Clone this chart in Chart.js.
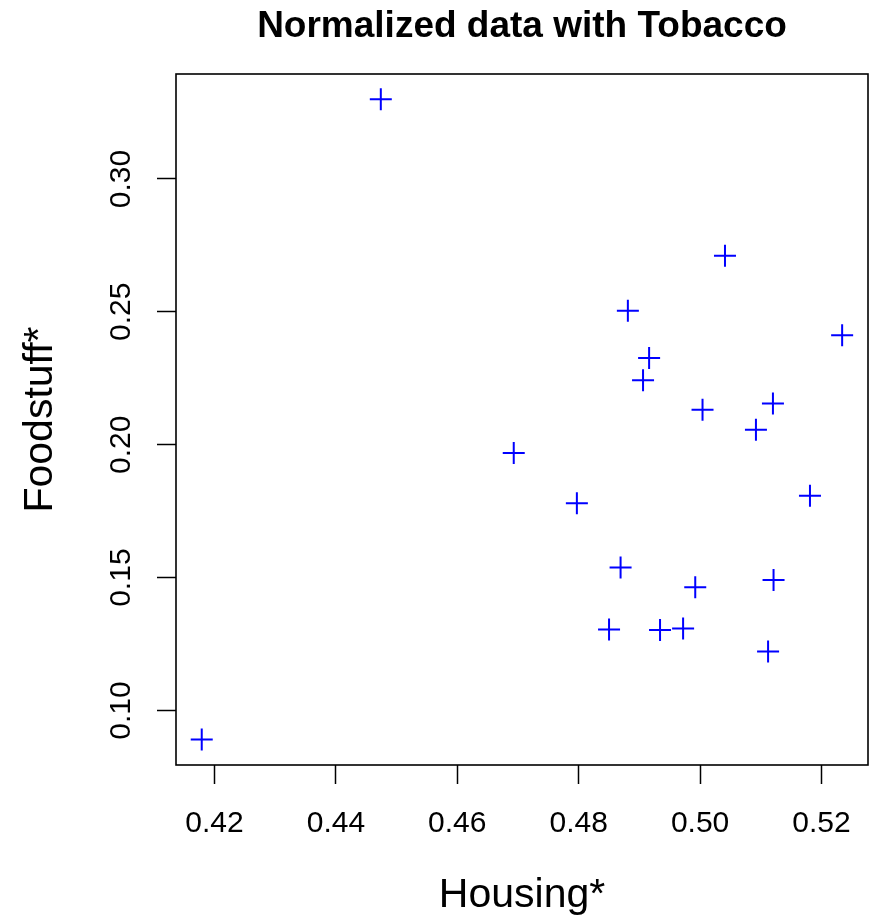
<!DOCTYPE html>
<html>
<head>
<meta charset="utf-8">
<title>Normalized data with Tobacco</title>
<script src="https://cdn.jsdelivr.net/npm/chart.js@4.4.0/dist/chart.umd.min.js"></script>
<style>
    body { margin: 0; background: #ffffff; }
    canvas { display: block; }
</style>
</head>
<body>
<canvas id="myChart" width="869" height="918"></canvas>
<script>
// Housing* (x) and Foodstuff* (y), normalized values
const housing = [0.4474, 0.4179, 0.5041, 0.4881, 0.5234, 0.4916, 0.4906, 0.5004, 0.5120, 0.5092,
                 0.4693, 0.4797, 0.5181, 0.4869, 0.4992, 0.5121, 0.4850, 0.4934, 0.4972, 0.5112];
const foodstuff = [0.3300, 0.0891, 0.2711, 0.2504, 0.2412, 0.2326, 0.2243, 0.2132, 0.2155, 0.2056,
                   0.1969, 0.1780, 0.1808, 0.1538, 0.1464, 0.1491, 0.1305, 0.1303, 0.1309, 0.1222];
const xTicks = [0.42, 0.44, 0.46, 0.48, 0.50, 0.52];
const yTicks = [0.10, 0.15, 0.20, 0.25, 0.30];

const fontFamily = '"Liberation Sans", Arial, Helvetica, sans-serif';

let points = [];
for (let i = 0; i < housing.length; i++) {
    points.push({x: housing[i], y: foodstuff[i]});
}

// R style box around the plot region
const plotBox = {
    id: 'plotBox',
    afterDraw: (chart) => {
        const {ctx, chartArea} = chart;
        ctx.save();
        ctx.strokeStyle = '#000000';
        ctx.lineWidth = 1.6;
        ctx.strokeRect(chartArea.left, chartArea.top, chartArea.right - chartArea.left, chartArea.bottom - chartArea.top);
        ctx.restore();
    }
};

const ctx = document.getElementById('myChart').getContext('2d');
new Chart(ctx, {
    type: 'scatter',
    data: {
        datasets: [{
            label: 'Foodstuff* vs Housing*',
            data: points,
            pointStyle: 'cross',
            pointRadius: 11,
            pointHoverRadius: 11,
            borderWidth: 2,
            borderColor: '#0000ff',
            backgroundColor: '#0000ff'
        }]
    },
    options: {
        responsive: false,
        animation: false,
        layout: {
            autoPadding: false,
            padding: {left: 0, top: 0, right: 1, bottom: 0}
        },
        scales: {
            x: {
                type: 'linear',
                min: 0.41366,
                max: 0.52766,
                afterBuildTicks: (scale) => {
                    scale.ticks = xTicks.map(v => ({value: v}));
                },
                afterFit: (scale) => {
                    scale.height = 153;
                    // labels fit inside the margin, no extra side padding
                    scale.paddingLeft = 0;
                    scale.paddingRight = 0;
                },
                border: {display: false},
                grid: {
                    drawOnChartArea: false,
                    drawTicks: true,
                    tickLength: 19,
                    tickColor: '#000000',
                    tickWidth: 1.5
                },
                ticks: {
                    color: '#000000',
                    padding: 22,
                    maxRotation: 0,
                    autoSkip: false,
                    font: {family: fontFamily, size: 30},
                    callback: (v) => v.toFixed(2)
                },
                title: {
                    display: true,
                    text: 'Housing*',
                    color: '#000000',
                    font: {family: fontFamily, size: 41, lineHeight: 1},
                    padding: {top: 0, bottom: 2}
                }
            },
            y: {
                type: 'linear',
                min: 0.0795,
                max: 0.3395,
                afterBuildTicks: (scale) => {
                    scale.ticks = yTicks.map(v => ({value: v}));
                },
                afterFit: (scale) => {
                    scale.width = 176;
                    scale.paddingTop = 0;
                    scale.paddingBottom = 0;
                },
                border: {display: false},
                grid: {
                    drawOnChartArea: false,
                    drawTicks: true,
                    tickLength: 19,
                    tickColor: '#000000',
                    tickWidth: 1.5
                },
                ticks: {
                    color: '#000000',
                    padding: 6,
                    minRotation: 90,
                    maxRotation: 90,
                    crossAlign: 'center',
                    autoSkip: false,
                    font: {family: fontFamily, size: 30},
                    callback: (v) => v.toFixed(2)
                },
                title: {
                    display: true,
                    text: 'Foodstuff*',
                    color: '#000000',
                    font: {family: fontFamily, size: 41, lineHeight: 1},
                    padding: {top: 20, bottom: 0}
                }
            }
        },
        plugins: {
            legend: {display: false},
            tooltip: {enabled: false},
            title: {
                display: true,
                text: 'Normalized data with Tobacco',
                color: '#000000',
                fullSize: false,
                font: {family: fontFamily, size: 37, weight: 'bold', lineHeight: 1.2},
                padding: {top: 5, bottom: 24.6}
            }
        }
    },
    plugins: [plotBox]
});
</script>
</body>
</html>
